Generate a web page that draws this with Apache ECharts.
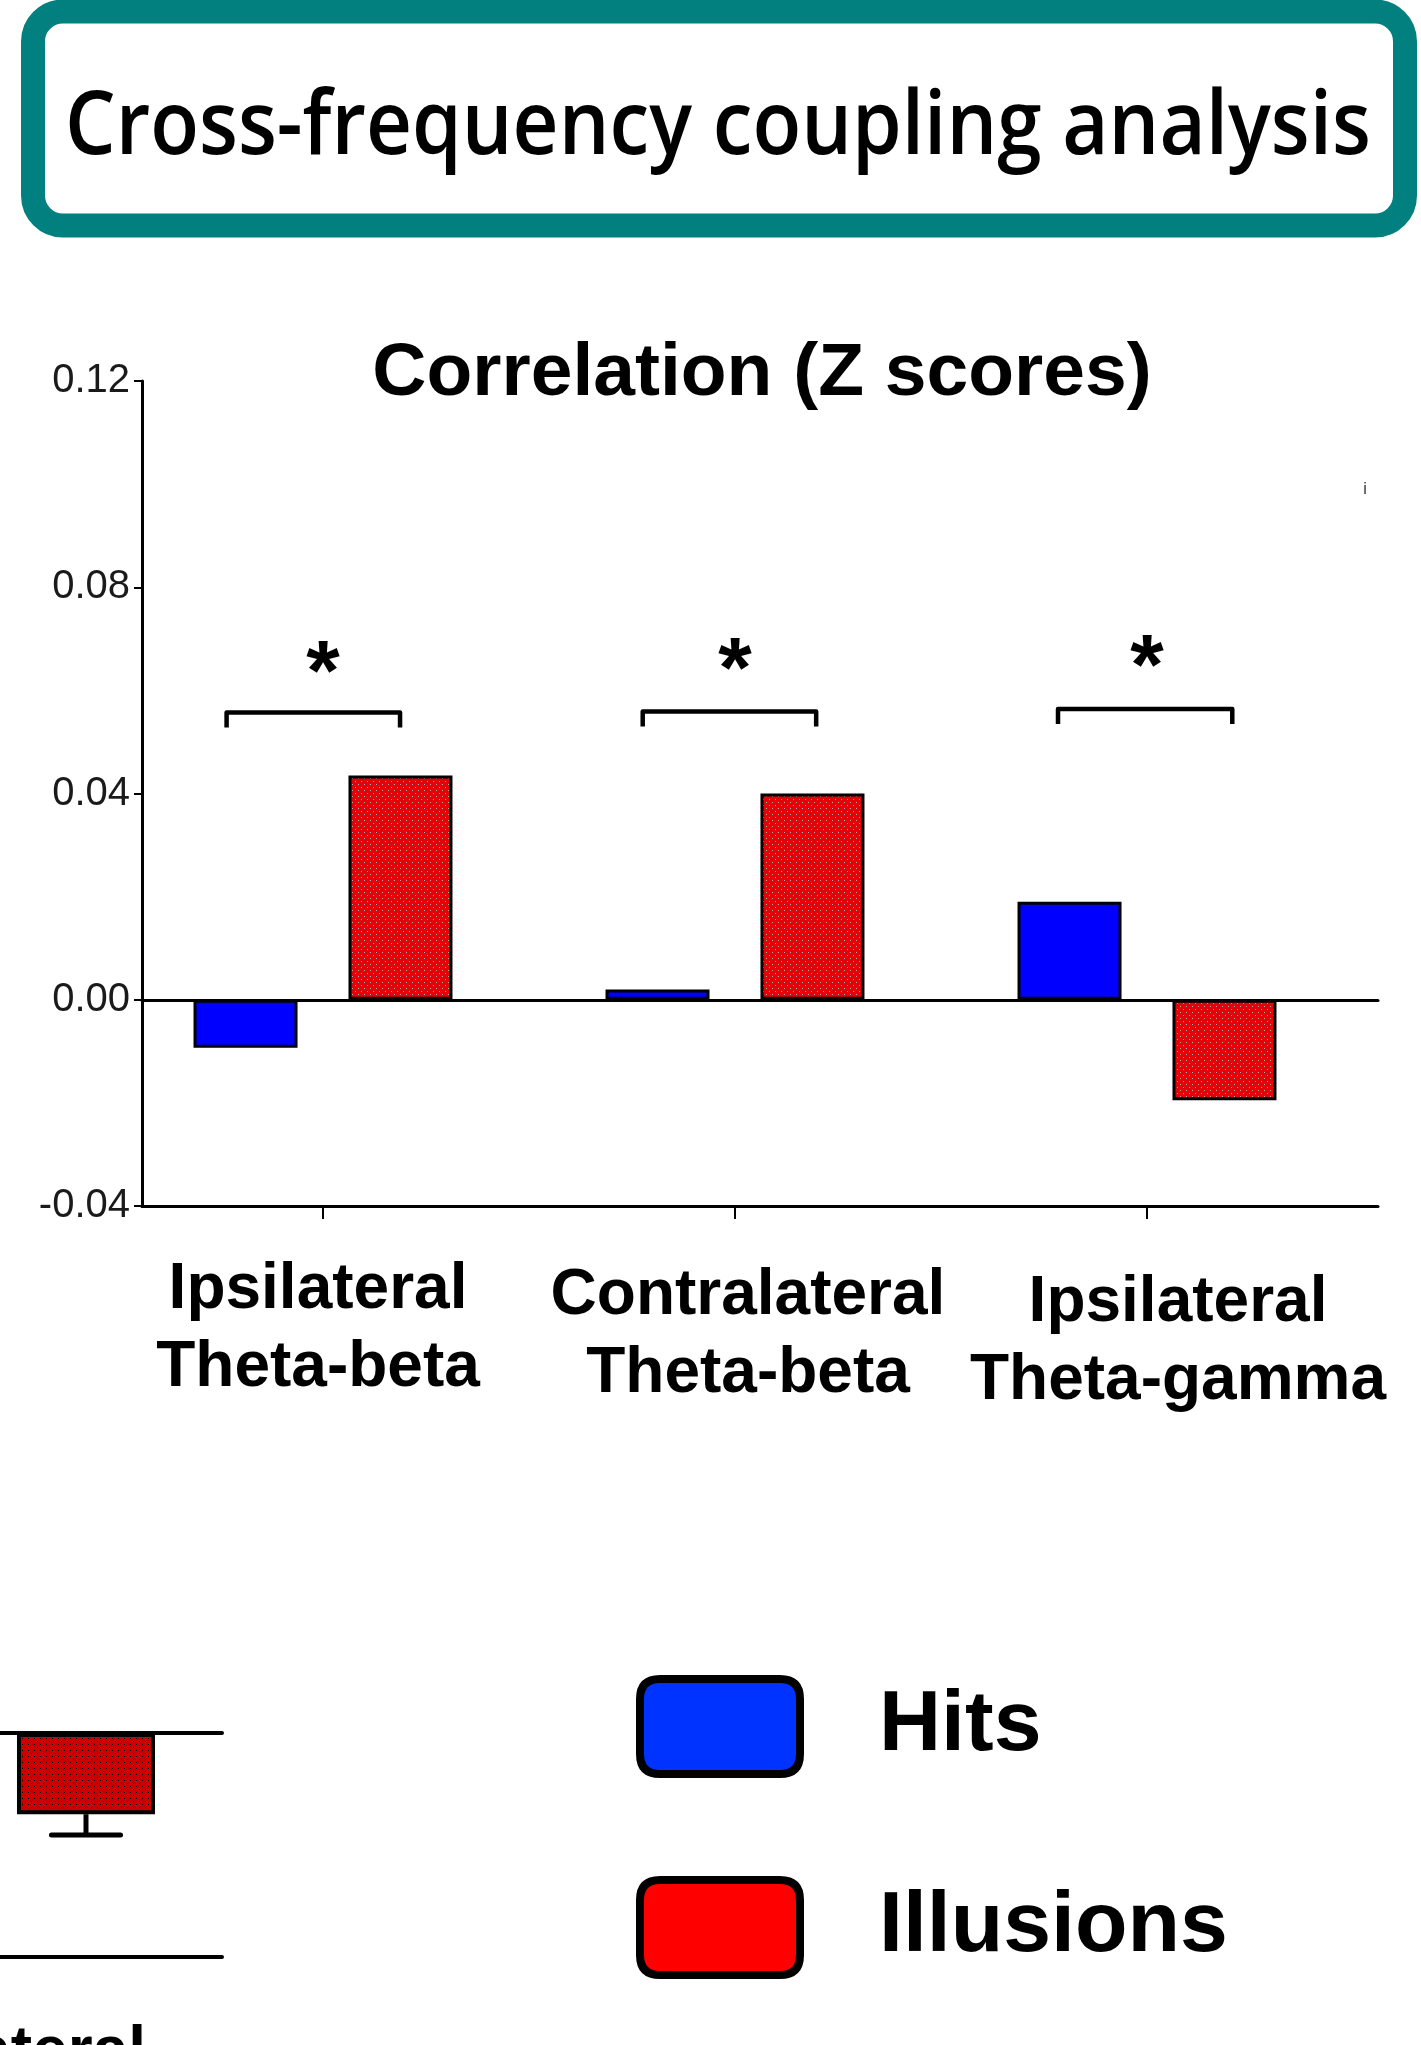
<!DOCTYPE html>
<html>
<head>
<meta charset="utf-8">
<title>Cross-frequency coupling analysis</title>
<script src="https://cdn.jsdelivr.net/npm/echarts@6/dist/echarts.min.js"></script>
<style>
  html, body { margin: 0; padding: 0; background: #fff; }
  #chart { width: 1421px; height: 2045px; }
</style>
</head>
<body>
<div id="chart"></div>
<script>
// ---- data ----
const categories = ['Ipsilateral\nTheta-beta', 'Contralateral\nTheta-beta', 'Ipsilateral\nTheta-gamma'];
const hits = [-0.0093, 0.002, 0.019];
const illusions = [0.0435, 0.040, -0.0195];
const yMin = -0.04, yMax = 0.12, yStep = 0.04;
// significance brackets (height of bracket bar) and star positions, per category
const bracketY = [0.0557, 0.0559, 0.0564];
const starY = [0.0663, 0.0668, 0.0673];
const starText = ['*', '*', '*'];

// neighbouring panel (only its right edge is on the page)
const leftCats = ['Ipsilateral', 'Contralateral'];
const leftIllusions = ['-', -0.0145];
const leftErrLow = [null, -0.0182];
const leftMin = -0.04, leftMax = 0.04;

const legendNames = ['Hits', 'Illusions'];

// ---- styles ----
const SANS = '"Liberation Sans", Arial, Helvetica, sans-serif';
const HITS_BLUE = '#0000FF';
const LEGEND_BLUE = '#0033FF';
const LEGEND_RED = '#FF0000';
const TEAL = '#02807F';
const labelPad = [[0, 10, 0, 0], [6, 0, 0, 26], [13, 0, 0, 62]];
const bracketSpan = [[-0.234, 0.187], [-0.224, 0.197], [-0.216, 0.207]];

// dotted red fill used for the Illusions bars
function dotPattern(base, dot) {
  const c = document.createElement('canvas');
  c.width = 6; c.height = 6;
  const g = c.getContext('2d');
  g.fillStyle = base; g.fillRect(0, 0, 6, 6);
  g.fillStyle = dot;
  g.fillRect(1, 1, 1, 1);
  g.fillRect(4, 4, 1, 1);
  return { image: c, repeat: 'repeat' };
}
const redDots = dotPattern('#E6000A', '#B8A8A8');
const darkRedDots = dotPattern('#CC0000', '#000000');

// fit the banner title to the box width
const titleText = 'Cross-frequency coupling analysis';
const titleFont = '600 88px "Open Sans", "Noto Sans", sans-serif';
const mctx = document.createElement('canvas').getContext('2d');
mctx.font = titleFont;
const titleScale = 1306 / mctx.measureText(titleText).width;

const fmt = v => (Math.abs(v) < 1e-9 ? '0.00' : v.toFixed(2));

const chart = echarts.init(document.getElementById('chart'), null, { renderer: 'canvas' });

const option = {
  backgroundColor: '#fff',
  animation: false,
  title: {
    text: 'Correlation (Z scores)',
    left: 757, top: 332, textAlign: 'center',
    textStyle: { fontFamily: SANS, fontWeight: 'bold', fontSize: 75, color: '#000' }
  },
  legend: {
    orient: 'vertical',
    left: 631, top: 1669,
    itemWidth: 160, itemHeight: 95, itemGap: 96,
    selectedMode: false,
    icon: 'path://M20,0 H140 Q160,0 160,20 V75 Q160,95 140,95 H20 Q0,95 0,75 V20 Q0,0 20,0 Z',
    data: [
      { name: legendNames[0], itemStyle: { color: LEGEND_BLUE, borderColor: '#000', borderWidth: 8 } },
      { name: legendNames[1], itemStyle: { color: LEGEND_RED, borderColor: '#000', borderWidth: 8 } }
    ],
    textStyle: { fontFamily: SANS, fontWeight: 'bold', fontSize: 86, color: '#000', lineHeight: 95, padding: [0, 0, 10, 74] }
  },
  grid: [
    { left: 117, top: 381, width: 1236, height: 825, outerBoundsMode: 'none' },  // bars
    { left: 142, top: 381, width: 1236, height: 825, outerBoundsMode: 'none' },  // visible axes
    { left: -322, top: 1509, width: 544, height: 448, outerBoundsMode: 'none' }  // neighbouring panel
  ],
  xAxis: [
    {
      gridIndex: 0, type: 'category',
      data: categories.map((c, i) => ({ value: c, textStyle: { padding: labelPad[i] } })),
      axisLine: { show: false, onZero: false },
      axisTick: { show: true, alignWithLabel: true, length: 13, lineStyle: { color: '#000', width: 2 } },
      axisLabel: { interval: 0, margin: 45, fontFamily: SANS, fontWeight: 'bold', fontSize: 64, lineHeight: 78, color: '#000' },
      splitLine: { show: false }
    },
    {
      gridIndex: 1, type: 'value', min: 0, max: 1, position: 'bottom',
      axisLine: { show: true, onZero: false, lineStyle: { color: '#000', width: 3 } },
      axisTick: { show: false }, axisLabel: { show: false }, splitLine: { show: false }
    },
    {
      gridIndex: 1, type: 'value', min: 0, max: 1, position: 'top',
      axisLine: { show: true, onZero: true, lineStyle: { color: '#000', width: 3 } },
      axisTick: { show: false }, axisLabel: { show: false }, splitLine: { show: false }
    },
    {
      gridIndex: 2, type: 'category', data: leftCats, position: 'bottom',
      axisLine: { show: true, onZero: false, lineStyle: { color: '#000', width: 4 } },
      axisTick: { show: false }, axisLabel: { show: false }, splitLine: { show: false }
    },
    {
      gridIndex: 2, type: 'value', min: 0, max: 1, position: 'top',
      axisLine: { show: true, onZero: true, lineStyle: { color: '#000', width: 4 } },
      axisTick: { show: false }, axisLabel: { show: false }, splitLine: { show: false }
    }
  ],
  yAxis: [
    { gridIndex: 0, type: 'value', min: yMin, max: yMax, interval: yStep, show: false },
    {
      gridIndex: 1, type: 'value', min: yMin, max: yMax, interval: yStep,
      axisLine: { show: true, onZero: false, lineStyle: { color: '#000', width: 3 } },
      axisTick: { show: true, inside: false, length: 8, lineStyle: { color: '#000', width: 2 } },
      axisLabel: { margin: 12, formatter: fmt, fontFamily: SANS, fontSize: 40, color: '#1a1a1a' },
      splitLine: { show: false }
    },
    { gridIndex: 2, type: 'value', min: leftMin, max: leftMax, show: false }
  ],
  series: [
    {
      name: legendNames[0], type: 'bar', xAxisIndex: 0, yAxisIndex: 0,
      data: hits, barWidth: 104, barGap: '49%',
      itemStyle: { color: HITS_BLUE, borderColor: '#000', borderWidth: 3 }
    },
    {
      name: legendNames[1], type: 'bar', xAxisIndex: 0, yAxisIndex: 0,
      data: illusions, barWidth: 104, barGap: '49%',
      itemStyle: { color: redDots, borderColor: '#000', borderWidth: 3 }
    },
    {
      name: 'significance', type: 'custom', xAxisIndex: 0, yAxisIndex: 0,
      data: categories.map((c, i) => [i, bracketY[i], starY[i]]),
      clip: false, z: 5,
      renderItem: function (params, api) {
        const i = api.value(0);
        const p = api.coord([i, api.value(1)]);
        const s = api.coord([i, api.value(2)]);
        const bw = api.size([1, 0])[0];
        const l = p[0] + bracketSpan[i][0] * bw, r = p[0] + bracketSpan[i][1] * bw, leg = 15;
        return {
          type: 'group',
          children: [
            {
              type: 'polyline',
              shape: { points: [[l, p[1] + leg], [l, p[1]], [r, p[1]], [r, p[1] + leg]] },
              style: { stroke: '#000', lineWidth: 4.5, fill: null, lineJoin: 'round' }
            },
            {
              type: 'text',
              style: {
                text: starText[i], x: s[0], y: s[1] + 18,
                align: 'center', verticalAlign: 'middle',
                font: 'bold 86px ' + SANS, fill: '#000'
              }
            }
          ]
        };
      }
    },
    {
      name: 'Illusions (left)', type: 'bar', xAxisIndex: 3, yAxisIndex: 2,
      data: leftIllusions, barWidth: 138,
      itemStyle: { color: darkRedDots, borderColor: '#000', borderWidth: 4 }
    },
    {
      name: 'error (left)', type: 'custom', xAxisIndex: 3, yAxisIndex: 2,
      data: leftCats.map((c, i) => [i, leftIllusions[i], leftErrLow[i]]).filter(d => d[2] !== null),
      clip: false, z: 5,
      renderItem: function (params, api) {
        const a = api.coord([api.value(0), api.value(1)]);
        const b = api.coord([api.value(0), api.value(2)]);
        const half = api.size([1, 0])[0] * 0.127;
        return {
          type: 'group',
          children: [
            { type: 'line', shape: { x1: a[0], y1: a[1], x2: b[0], y2: b[1] }, style: { stroke: '#000', lineWidth: 5 } },
            { type: 'line', shape: { x1: b[0] - half, y1: b[1], x2: b[0] + half, y2: b[1] }, style: { stroke: '#000', lineWidth: 5, lineCap: 'round' } }
          ]
        };
      }
    }
  ],
  graphic: [
    {
      type: 'rect', z: 0,
      shape: { x: 33, y: 11.5, width: 1372, height: 214, r: 30 },
      style: { fill: '#fff', stroke: TEAL, lineWidth: 24 }
    },
    {
      type: 'text', z: 1, x: 718, y: 129, scaleX: titleScale,
      style: { text: titleText, x: 0, y: 0, align: 'center', verticalAlign: 'middle', font: titleFont, fill: '#000' }
    },
    {
      type: 'text', x: 146, y: 2021,
      style: { text: leftCats[1], x: 0, y: 0, align: 'right', verticalAlign: 'top', font: 'bold 64px ' + SANS, fill: '#000' }
    },
    {
      type: 'text', x: 1365, y: 482,
      style: { text: 'i', x: 0, y: 0, align: 'center', verticalAlign: 'top', font: '16px ' + SANS, fill: '#333' }
    }
  ]
};

chart.setOption(option);
</script>
</body>
</html>
